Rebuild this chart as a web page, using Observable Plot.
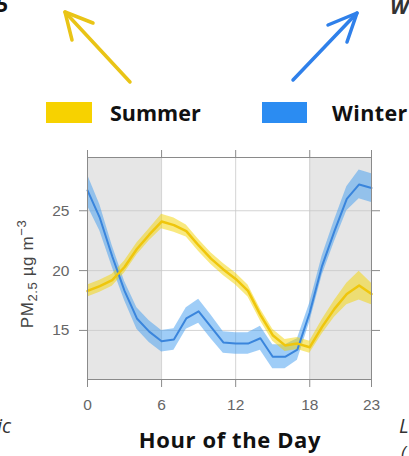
<!DOCTYPE html>
<html>
<head>
<meta charset="utf-8">
<script src="https://cdn.jsdelivr.net/npm/d3@7"></script>
<script src="https://cdn.jsdelivr.net/npm/@observablehq/plot@0.6"></script>
<style>
  html, body { margin: 0; padding: 0; background: #fff; }
  #wrap { position: relative; width: 409px; height: 456px; overflow: hidden; background: #fff; }
  #top { position: absolute; left: 0; top: 0; }
  #chart { position: absolute; left: 0; top: 140px; }
  #bottom { position: absolute; left: 0; top: 415px; }
</style>
</head>
<body>
<div id="wrap">
  <svg id="top" width="409" height="140" xmlns="http://www.w3.org/2000/svg">
    <g fill="none" stroke-width="3.5" stroke-linecap="round" stroke-linejoin="round">
      <line x1="130" y1="82" x2="65" y2="12" stroke="#e9c416"/>
      <polyline points="93,23 65,12 72,40" stroke="#e9c416"/>
      <line x1="293" y1="80" x2="357" y2="13" stroke="#2f80ea"/>
      <polyline points="328,25 357,13 347,42" stroke="#2f80ea"/>
    </g>
    <rect x="46" y="102" width="46" height="21" fill="#f7d200"/>
    <text x="110" y="121" font-family="Open Sans, sans-serif" font-weight="700" font-size="21.5" fill="#111">Summer</text>
    <rect x="262" y="102" width="45" height="21" fill="#2b8cf2"/>
    <text x="332" y="121" font-family="Open Sans, sans-serif" font-weight="700" font-size="21.5" letter-spacing="0.4" fill="#111">Winter</text>
    <text x="-4" y="12" font-family="Open Sans, sans-serif" font-weight="700" font-size="21" fill="#111">5</text>
    <text x="390" y="14" font-family="Open Sans, sans-serif" font-weight="700" font-style="italic" font-size="21" fill="#333">W</text>
  </svg>
  <div id="chart"></div>
  <svg id="bottom" width="409" height="41" xmlns="http://www.w3.org/2000/svg">
    <text x="230" y="33" text-anchor="middle" font-family="Open Sans, sans-serif" font-weight="700" font-size="22" letter-spacing="0.6" fill="#111">Hour of the Day</text>
    <text x="-3" y="18" font-family="Open Sans, sans-serif" font-style="italic" font-size="20" fill="#333">ic</text>
    <text x="399" y="18" font-family="Open Sans, sans-serif" font-style="italic" font-size="20" fill="#333">L</text>
    <text x="401" y="44" font-family="Open Sans, sans-serif" font-style="italic" font-size="18" fill="#333">(</text>
  </svg>
</div>
<script>
// ---- data ----
const hours = [0,1,2,3,4,5,6,7,8,9,10,11,12,13,14,15,16,17,18,19,20,21,22,23];
const summerMean = [18.3,18.7,19.2,20.3,21.8,23.0,24.1,23.8,23.3,22.1,21.0,20.1,19.3,18.3,16.3,14.6,13.75,13.9,13.6,15.3,16.8,18.05,18.75,18.05];
const summerErr  = [0.5,0.5,0.5,0.5,0.5,0.5,0.6,0.6,0.5,0.5,0.5,0.5,0.5,0.5,0.5,0.5,0.5,0.5,0.5,0.6,0.7,0.9,1.2,0.9];
const winterMean = [26.7,24.4,21.2,18.3,16.0,14.9,14.1,14.25,16.0,16.6,15.3,14.0,13.9,13.9,14.35,12.8,12.8,13.4,16.5,20.4,23.3,26.0,27.2,26.9];
const winterErr  = [1.3,1.1,0.9,0.8,0.9,0.9,0.9,0.9,0.9,1.0,1.0,0.9,0.9,0.9,1.0,1.0,1.0,0.9,0.8,0.8,0.9,1.0,1.2,1.2];
const nightSpans = [{from: 0, to: 6}, {from: 18, to: 23}];
const xTicks = [0, 6, 12, 18, 23];
const yTicks = [15, 20, 25];

const summer = hours.map((h, i) => ({hour: h, v: summerMean[i], e: summerErr[i]}));
const winter = hours.map((h, i) => ({hour: h, v: winterMean[i], e: winterErr[i]}));

const chart = Plot.plot({
  width: 409,
  height: 280,
  marginTop: 17,
  marginBottom: 41,
  marginLeft: 87,
  marginRight: 38,
  x: {domain: [0, 23], label: null},
  y: {domain: [10.9, 29.45], label: null},
  style: {fontFamily: "'Liberation Sans Narrow', 'Arial Narrow', sans-serif", fontSize: "15.5px", color: "#666", background: "transparent"},
  marks: [
    Plot.rect(nightSpans, {x1: "from", x2: "to", fill: "#e6e6e6"}),
    Plot.gridX([6, 12, 18], {stroke: "#c8c8c8", strokeOpacity: 0.8}),
    Plot.gridY(yTicks, {stroke: "#c8c8c8", strokeOpacity: 0.8}),
    Plot.areaY(winter, {x: "hour", y1: d => d.v - d.e, y2: d => d.v + d.e, fill: "#3f9bf0", fillOpacity: 0.5}),
    Plot.areaY(summer, {x: "hour", y1: d => d.v - d.e, y2: d => d.v + d.e, fill: "#f4d400", fillOpacity: 0.5}),
    Plot.line(winter, {x: "hour", y: "v", stroke: "#3a85dc", strokeWidth: 2}),
    Plot.line(summer, {x: "hour", y: "v", stroke: "#efc60c", strokeWidth: 2.5}),
    Plot.frame({stroke: "#8a8a8a"}),
    Plot.axisX(xTicks, {anchor: "bottom", tickSize: 8, tickPadding: 11, stroke: "#8a8a8a", label: null}),
    Plot.axisX(xTicks, {anchor: "top", tickSize: 8, tickFormat: () => "", stroke: "#8a8a8a", label: null}),
    Plot.axisY(yTicks, {anchor: "left", tickSize: 8, tickPadding: 10, stroke: "#8a8a8a", label: null}),
    Plot.axisY(yTicks, {anchor: "right", tickSize: 8, tickFormat: () => "", stroke: "#8a8a8a", label: null})
  ]
});
document.getElementById("chart").appendChild(chart);

// y-axis title with subscript / superscript
const svg = d3.select(chart);
const t = svg.append("text")
  .attr("transform", "translate(33,134) rotate(-90)")
  .attr("text-anchor", "middle")
  .attr("font-family", "'Liberation Sans', Arial, sans-serif")
  .attr("font-size", 17)
  .attr("letter-spacing", 0.6)
  .attr("fill", "#444");
t.append("tspan").text("PM");
t.append("tspan").attr("font-size", 13).attr("dy", 4).text("2.5");
t.append("tspan").attr("dy", -4).text(" µg m");
t.append("tspan").attr("font-size", 13).attr("dy", -7).text("−3");
</script>
</body>
</html>
